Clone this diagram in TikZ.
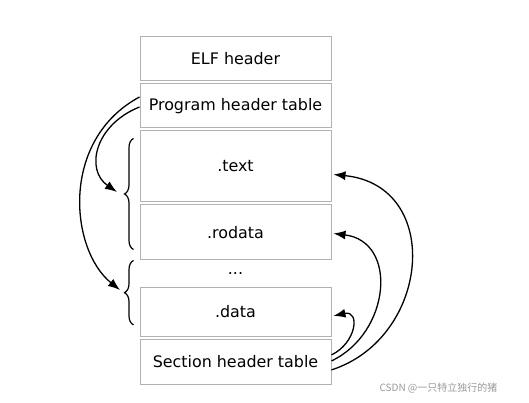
\documentclass[tikz,border=0pt]{standalone}
\usepackage{fontspec}
\setmainfont{DejaVu Sans}
\newfontfamily\cjk{Noto Sans CJK SC}
\usetikzlibrary{positioning,decorations.pathreplacing,arrows.meta}

\begin{document}
\begin{tikzpicture}[
    x=1pt, y=1pt,
    node distance=2pt,
    every node/.style={font=\fontsize{15.9}{18}\selectfont},
    part/.style={draw=gray!60, line width=1pt, minimum width=191pt, inner sep=0pt},
    brace/.style={draw, line width=1.2pt, decorate, decoration={brace, amplitude=9pt}},
    link/.style={draw, line width=1.3pt, -{Latex[length=12pt,width=9pt]}}
]
\useasboundingbox (0,0) rectangle (529,403);
\node[part, minimum height=44pt] (elf) at (235.5,344) {ELF header};
\node[part, minimum height=44pt, below=of elf] (pht) {Program header table};
\node[part, minimum height=71pt, below=of pht] (text) {.text};
\node[part, minimum height=55pt, below=of text] (rodata) {.rodata};
\node[minimum height=26pt, inner sep=0pt, below=0pt of rodata] (dots) {...};
\node[part, minimum height=49pt, below=0pt of dots] (data) {.data};
\node[part, minimum height=45pt, below=of data] (sht) {Section header table};

% segments
\draw[brace] ([shift={(-6pt,11pt)}]rodata.south west) -- ([shift={(-6pt,-8pt)}]text.north west);
\draw[brace] ([shift={(-6pt,12pt)}]data.south west) -- ([shift={(-6pt,0pt)}]rodata.south west);
\coordinate (texttip) at (117,211);
\coordinate (datatip) at (120,113);

% program headers
\draw[link] ([yshift=9pt]pht.west) .. controls +(-80,-43) and +(-50,40) .. (datatip);
\draw[link] ([yshift=-1pt]pht.west) .. controls +(-45,-18) and +(-32,22) .. (texttip);

% section headers
\draw[link] ([yshift=7pt]sht.east) .. controls +(25,12) and +(27,6) .. ([shift={(2pt,-4pt)}]data.east);
\draw[link] ([yshift=1pt]sht.east) .. controls +(59,28) and +(65,-8) .. ([shift={(2pt,-1pt)}]rodata.east);
\draw[link] ([yshift=-8pt]sht.east) .. controls +(99,32) and +(110,-11) .. ([shift={(2pt,-8pt)}]text.east);

\node[anchor=west, text=gray!80, font=\cjk\fontsize{10}{12}\selectfont] (mark) at (376,15) {CSDN @一只特立独行的猪};
\end{tikzpicture}
\end{document}
